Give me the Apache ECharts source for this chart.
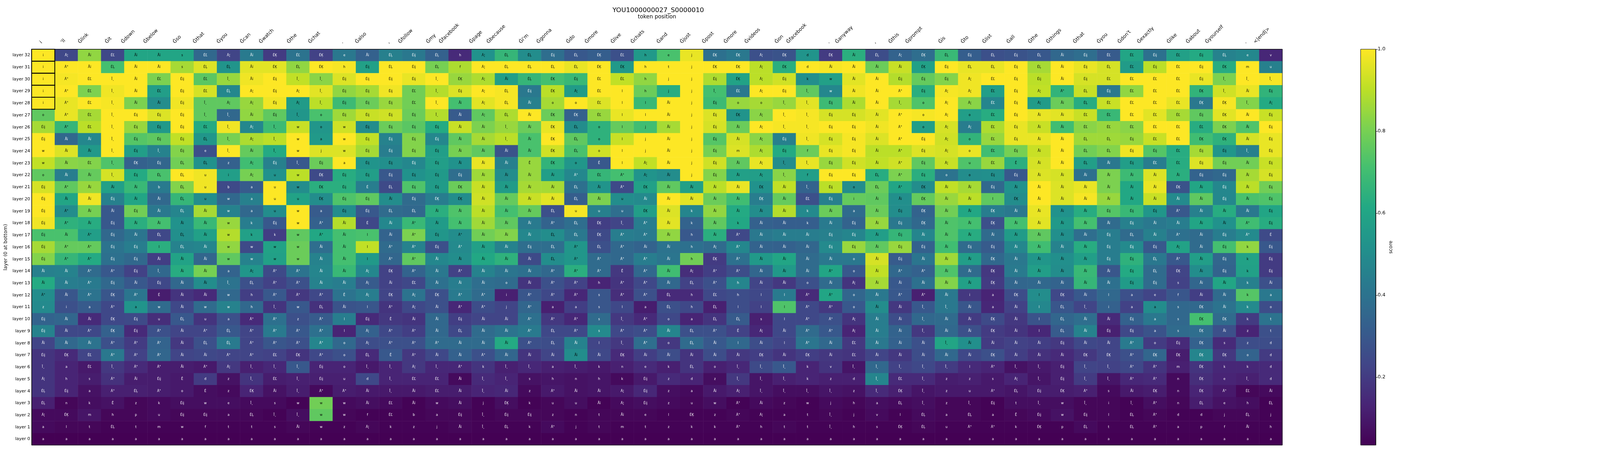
<!DOCTYPE html>
<html><head><meta charset="utf-8">
<style>html,body{margin:0;padding:0;background:#fff;overflow:hidden}#c{height:1155px}</style>
<script src="https://cdn.jsdelivr.net/npm/echarts@6/dist/echarts.min.js"></script>
</head><body><div id="c"></div>
<script>
const TITLE = 'YOU1000000027_S0000010';
const COLUMNS = ["i","'ll","Ġlink","Ġit","Ġdown","Ġbelow","Ġso","Ġthat","Ġyou","Ġcan","Ġwatch","Ġthe","Ġchat",".","Ġalso",",","Ġfollow","Ġmy","Ġfacebook","Ġpage","Ġbecause","Ġi'm","Ġgonna","Ġdo","Ġmore","Ġlive","Ġchats","Ġand","Ġjust","Ġpost","Ġmore","Ġvideos","Ġon","Ġfacebook",".","Ġanyway",",","Ġthis","Ġprompt","Ġis","Ġto","Ġlist","Ġall","Ġthe","Ġthings","Ġthat","Ġyou","Ġdon't","Ġexactly","Ġlike","Ġabout","Ġyourself",".","<|end|>"];
const LAYERS = [0,1,2,3,4,5,6,7,8,9,10,11,12,13,14,15,16,17,18,19,20,21,22,23,24,25,26,27,28,29,30,31,32].map(n => 'layer ' + n);
const COLORBAR_TICKS = [0.2,0.4,0.6,0.8,1.0];
const TOP_TOKEN_LAYERS = [32,31,30,29,28];
const TOKEN_CODES = {'1':'Ã¦','2':'Ã°','3':'Åĭ','4':'Éij','5':'ÉĽ','6':'ÉĻ','7':'ÉĶ','8':'Î¸','9':'Ê','0':'É'};
// best token per cell, top row = layer 32; digits are short codes for the TOKEN_CODES strings
const TOKENS = [
"i13533s5 13757e364 6h1664675 hej7717d7 361764646 34554546ev",
"i23633s6 63767h464 6f1666677 htj7717d3 333746646 34654547mu",
"i2583545 834884444 871367455 hjj4714kw 334441544 3455554888",
"i2583545 614184445 84164715l hjj85148w 332411541 2645557834",
"i2583348 114184445 83163oo5l l3j4oo884 338o11541 3655557781",
"o2584448 8348o4444 83163775l l3j471884 432o1o543 3555554734",
"42584445 818wow444 4338376ol j3j431884 432o11543 3555555734",
"43384446 818waw444 4338376ol j3j431484 43241o543 3664557734",
"w338484e 838wjw444 4333376ol j3j4m14f4 43241o543 3664454484",
"w3587466 z1484a444433397 o 9l13j4318844324 1u5933634554434",
"o338466u i1uw74444443333 2 5213j4318f44624 oo4433333334434",
"42333b6u bauw74064473333 6 32733337384o627 334333333373434",
"4334336u wauu74434773333 6 3u333337354i337 33l733333333434",
"42334363 wauwa4466333336 u uu73k3333k3a347 337333344423334",
"42343333 wk4w23032333332 6 7823k3k33k34347 337333334333324",
"43243663 wkkw23l32423336 6 7223h3233344343 333333346323420",
"42244l63 wwww33l22423346 2 6233h1233344344 3443333444134k4",
"42244333 wwww33l22333336 2 2223h723333o343 3373333446234k4",
"33224833 a12233172323332 2 29231223332o322 3373333346734k4",
"33243433 862233135333o32 2 h22362h33o31333 3373333344s33k3",
"23272033 wh2229171722i22 2 s226h5hll22o322 3ia7l73laef33ka",
"zia2aw3w wh8w63l21322j2a a sla6h6lll22o338 83a3l68iaas73ko",
"43374u6u a22z2l493343322 2 s82oa66sl221338 3373l6334as77kt",
"43274232 62222l122363326 2 s22362913221338 3373l6344as73zt",
"33322236 62222o122233326 3 l82o63l3l235333 833334332o47szd",
"47522233 22572o692332333 3 373333373735333 3373337727777od",
"8a582232 18884o88182k88a 8 knek6o888kv8888 8l28848822m7kkd",
"1hs2349d z8584ud855388sh n hk4zdz888kzd858 zzs1848822n7e8d",
"64a262o0 z738223835383z2 3 314za318888z878 zu26472s37n7253",
"6nk9zk4w e8swww353w3j7ku u 314zuw23zwjha68 z84t8w8i82n6eh6",
"17mhpu44 a688wwf5ba4844z n t3el7z21at8jvl6 a6a94w4l62ddj6j",
"alt6tmwf tts3wz1kzj386k2 j tmtzkk2htt8hs76 u22k7p6t62apf3h",
"aaaaaaaa aaaaaaaaaaaaaaa a aaaaaaaaaaaaaaa aaaaaaaaaaaaaaa"
];
// score x 100 per cell, top row = layer 32
const SCORES = [
[100,24,84,24,60,60,60,36,23,43,20,40,22,42,33,45,42,33,15,52,67,50,38,30,32,27,55,72,97,39,42,27,28,53,20,64,26,34,38,68,32,27,28,30,36,38,31,60,39,58,62,46,48,14],
[100,100,100,71,100,100,87,95,53,96,96,84,100,99,58,100,100,80,88,100,100,100,100,97,100,55,100,100,100,100,100,90,64,100,99,100,78,92,58,100,97,97,100,87,100,97,94,56,90,100,100,63,100,45],
[100,99,100,100,100,81,100,75,85,98,100,91,83,95,100,100,97,100,85,88,57,67,71,68,100,91,84,100,100,88,59,90,93,51,58,96,100,89,77,82,98,100,100,90,100,94,94,100,100,100,97,81,100,99],
[100,100,81,98,100,57,100,94,48,100,100,100,96,84,87,98,79,89,95,100,99,42,90,56,100,100,78,63,100,71,42,100,100,76,48,98,100,100,64,99,98,57,100,91,66,92,42,84,100,100,66,93,97,66],
[100,97,100,99,81,50,98,76,76,85,98,56,90,69,78,85,79,100,71,96,99,45,87,100,95,100,68,100,100,69,85,87,85,96,69,88,100,87,73,100,83,47,100,56,78,63,92,100,100,97,42,99,82,62],
[76,97,87,100,100,95,100,76,36,84,76,54,72,86,92,93,78,89,31,76,88,100,78,33,85,97,100,100,100,95,53,83,100,99,94,94,96,100,99,100,57,63,100,97,96,92,68,100,96,87,76,96,100,92],
[87,67,90,100,85,55,100,62,98,48,69,92,54,93,50,78,75,62,92,81,85,78,97,50,65,77,70,87,100,94,78,100,99,99,100,100,98,100,57,94,44,88,97,92,70,83,85,83,100,100,63,81,73,100],
[100,36,48,100,74,76,91,54,80,88,90,100,55,100,91,46,82,48,76,87,90,72,100,76,65,92,100,100,100,74,94,83,45,98,94,99,95,100,100,93,66,85,97,97,100,86,86,85,92,100,70,65,94,97],
[100,95,55,100,57,46,82,27,100,77,62,100,95,95,87,44,82,57,80,76,28,72,93,72,93,100,100,100,100,80,95,88,62,78,97,99,90,90,95,94,97,70,80,92,100,79,82,98,74,63,87,54,45,97],
[91,83,82,73,33,35,79,52,33,70,45,30,78,100,53,51,48,57,52,97,45,85,66,54,30,100,91,100,100,93,76,97,50,97,85,93,91,93,76,92,73,85,64,94,100,57,42,57,44,63,95,79,79,92],
[76,44,77,94,62,72,100,98,57,80,52,90,25,63,57,30,52,55,38,86,50,85,57,48,67,71,53,50,100,82,58,57,83,57,100,100,63,81,64,40,50,51,30,95,94,39,81,69,95,64,34,36,87,94],
[94,76,85,58,68,43,82,98,25,31,100,50,64,64,44,25,73,56,78,92,56,87,87,39,53,25,58,76,58,90,97,52,91,34,90,50,78,60,50,91,87,36,52,100,95,97,81,61,97,28,60,48,90,79],
[100,60,98,45,60,36,67,50,36,45,100,59,50,73,76,50,37,44,50,93,77,92,96,32,81,50,49,100,96,78,70,44,77,27,45,77,76,51,77,85,90,76,50,100,95,99,85,61,92,49,76,48,72,73],
[100,50,80,30,79,42,47,87,46,36,50,100,31,50,30,37,36,64,73,90,71,77,27,99,45,38,57,95,47,84,62,50,89,49,78,37,78,50,34,79,61,44,42,97,52,63,74,68,54,30,45,63,42,60],
[98,65,63,30,64,71,52,68,85,44,30,100,33,89,24,48,68,56,71,86,76,43,34,38,21,23,44,96,34,76,61,33,32,32,43,34,85,42,36,73,71,27,71,96,55,71,37,45,42,44,60,52,70,63],
[72,72,57,36,41,24,51,58,89,58,21,76,61,71,72,34,81,54,50,79,82,48,50,42,25,44,43,84,30,64,24,42,44,44,45,47,57,67,47,73,63,37,56,76,51,38,44,37,45,39,37,44,49,25],
[87,77,77,40,44,64,46,47,84,25,59,78,38,71,91,37,46,27,49,58,46,38,38,54,27,36,34,40,39,37,48,34,33,35,49,85,76,85,33,70,37,31,48,70,46,63,44,49,30,59,37,71,84,30],
[82,67,62,39,36,21,59,35,76,46,58,78,46,71,55,35,76,48,50,61,65,25,50,54,37,36,44,41,79,20,39,55,60,37,42,42,94,31,41,86,57,36,42,54,51,57,44,65,42,30,57,35,59,20],
[45,46,37,30,22,36,63,80,34,54,25,40,47,68,48,22,34,42,22,46,41,39,36,64,37,19,36,70,16,21,26,35,55,37,60,30,91,36,33,73,37,19,43,57,50,68,29,62,37,23,50,34,58,20],
[62,44,43,36,30,24,36,50,40,27,22,27,46,44,31,22,24,39,44,38,37,18,27,22,13,18,24,36,22,27,47,23,19,27,37,18,87,30,39,82,58,20,35,36,34,67,39,56,37,22,35,60,45,27],
[50,29,40,29,41,11,18,15,36,21,30,19,24,40,44,23,40,27,43,37,12,29,24,14,29,16,27,15,15,24,26,24,43,15,60,35,42,30,12,42,19,13,26,50,24,30,36,27,23,29,21,37,74,42],
[49,27,31,24,53,37,24,37,46,36,18,30,17,28,29,18,24,27,14,26,23,35,12,21,29,24,11,27,24,12,26,22,73,24,19,30,50,19,30,42,29,14,22,48,29,23,33,22,50,36,36,40,49,26],
[34,35,15,24,25,16,30,18,27,15,39,27,31,44,15,19,18,36,21,23,23,39,19,14,37,19,15,24,13,18,31,12,24,24,27,18,44,26,36,37,20,25,19,28,35,38,15,33,42,36,71,37,20,40],
[46,24,24,33,15,27,23,23,30,23,43,30,39,13,33,24,21,36,24,37,40,43,24,24,49,24,26,47,27,27,22,14,24,37,30,13,44,34,19,36,27,20,18,14,31,46,12,24,28,37,38,27,13,27],
[23,36,40,27,20,34,19,27,43,23,29,27,47,36,26,27,27,37,37,37,62,27,26,46,23,19,38,19,37,30,36,26,23,41,36,19,42,33,27,60,51,20,22,21,19,24,23,43,20,15,33,15,26,26],
[18,15,23,42,22,35,23,24,23,23,22,18,24,27,15,30,19,24,33,27,35,18,23,50,24,15,21,26,18,26,19,21,18,21,19,18,23,19,26,36,24,27,21,17,15,19,23,27,35,11,47,19,34,20],
[18,13,10,19,15,11,11,10,19,12,14,30,13,13,10,13,19,14,14,18,12,14,12,11,10,12,15,12,18,12,14,25,30,13,18,9,36,22,24,20,15,13,8,10,12,23,22,24,18,12,18,14,14,15],
[18,13,11,17,11,11,10,20,8,18,11,12,12,12,24,13,13,13,6,15,13,8,9,8,9,6,10,15,13,7,19,9,12,13,12,12,47,15,15,11,12,10,13,9,12,20,9,14,15,6,16,13,12,15],
[18,13,8,12,12,11,10,7,6,13,8,11,6,11,10,10,10,11,11,13,14,6,10,8,9,10,14,7,6,10,12,9,7,7,9,8,15,12,9,10,10,10,9,11,11,12,6,10,11,6,13,10,5,6],
[12,5,7,8,5,6,7,7,7,6,6,4,79,6,7,6,4,6,7,4,7,4,5,7,4,6,7,6,5,7,4,6,5,4,6,5,7,6,7,5,5,4,7,7,7,5,5,4,7,5,11,8,7,4],
[6,6,9,5,5,6,5,5,5,5,4,7,76,5,4,4,4,5,5,4,5,5,5,4,5,5,5,4,4,4,5,4,4,4,5,4,6,4,6,5,5,4,5,6,8,5,5,4,5,4,4,5,5,4],
[6,5,5,4,4,4,4,4,4,4,4,5,4,4,5,4,4,4,5,4,4,4,6,4,5,4,4,4,4,4,4,4,5,4,4,4,4,4,5,4,4,4,4,4,4,6,4,4,4,4,4,4,4,4],
[3.4,3.4,3.4,3.4,3.4,3.4,3.4,3.4,3.4,3.4,3.4,3.4,3.4,3.4,3.4,3.4,3.4,3.4,3.4,3.4,3.4,3.4,3.4,3.4,3.4,3.4,3.4,3.4,3.4,3.4,3.4,3.4,3.4,3.4,3.4,3.4,3.4,3.4,3.4,3.4,3.4,3.4,3.4,3.4,3.4,3.4,3.4,3.4,3.4,3.4,3.4,3.4,3.4,3.4]
];

const VIRIDIS = ['#440154','#482475','#414487','#355f8d','#2a788e','#21918c','#22a884','#44bf70','#7ad151','#bddf26','#fde725'];
const FONT = '"DejaVu Sans"';
// The browser window may be narrower than the reference: the horizontal layout keeps the reference's proportions.
const W = Math.min(window.innerWidth || 5400, 5400);
const sx = W / 5400;
const el = document.getElementById('c');
el.style.width = W + 'px';
const chart = echarts.init(el, null, {renderer:'canvas', width:W, height:1155});

const tokenRows = TOKENS.map(r => r.replace(/ /g,''));
const scoreData = [];
const cellTokens = {};
SCORES.forEach((row, i) => {
  const y = 32 - i;
  row.forEach((p, x) => {
    const ch = tokenRows[i][x];
    const v = p / 100;
    scoreData.push({value:[x, y, v], label:{color: v >= 0.5 ? '#000' : '#fff'}});
    cellTokens[x + '_' + y] = TOKEN_CODES[ch] || ch;
  });
});

const ctx = document.createElement('canvas').getContext('2d');
const XFONT = '12.5px ' + FONT;
ctx.font = XFONT;
const yTickFont = sx < 1 ? 11 : 13.9;
const yNameFont = sx < 1 ? 12.5 : 13.9;
const plotLeft = 101 * sx;

chart.setOption({
  animation:false,
  backgroundColor:'#fff',
  title:{text:TITLE, left:2215 * sx, top:13, textAlign:'center', textStyle:{fontFamily:FONT, fontSize:16.7, fontWeight:'normal', color:'#000'}},
  tooltip:{show:false},
  grid:[
    {left:plotLeft, top:126, width:4227 * sx, height:1014, containLabel:false},
    {left:4592 * sx, top:126, width:51 * sx, height:1014, z:5, show:true, borderColor:'#000', borderWidth:1, backgroundColor:'transparent'}
  ],
  xAxis:[
    {type:'category', gridIndex:0, position:'top', data:COLUMNS, z:3,
     axisLine:{lineStyle:{color:'#000', width:1}},
     axisTick:{alignWithLabel:true, length:5, lineStyle:{color:'#000'}},
     axisLabel:{show:false},
     name:'token position', nameLocation:'middle', nameGap:76,
     nameTextStyle:{fontFamily:FONT, fontSize:13.9, color:'#000'}, splitLine:{show:false}},
    {type:'value', gridIndex:1, show:false, min:0, max:1}
  ],
  yAxis:[
    {type:'category', gridIndex:0, data:LAYERS, z:3,
     axisLine:{lineStyle:{color:'#000', width:1}},
     axisTick:{alignWithLabel:true, length:5, lineStyle:{color:'#000'}},
     axisLabel:{fontFamily:FONT, fontSize:yTickFont, color:'#000', margin:4, interval:0},
     name:'layer (0 at bottom)', nameLocation:'middle', nameGap:plotLeft - 20, nameRotate:90,
     nameTextStyle:{fontFamily:FONT, fontSize:yNameFont, color:'#000'}, splitLine:{show:false}},
    {type:'value', gridIndex:1, position:'right', min:0.034, max:1, z:6,
     axisLine:{show:true, onZero:false, lineStyle:{color:'#000', width:1}},
     axisTick:{show:true, length:5, customValues:COLORBAR_TICKS, lineStyle:{color:'#000'}},
     axisLabel:{show:true, customValues:COLORBAR_TICKS, formatter:v => v.toFixed(1), fontFamily:FONT, fontSize:12.5, color:'#000', margin:5},
     splitLine:{show:false},
     name:'score', nameLocation:'middle', nameGap:32, nameRotate:90,
     nameTextStyle:{fontFamily:FONT, fontSize:12.5, color:'#000'}}
  ],
  visualMap:{type:'continuous', seriesIndex:0, dimension:2, min:0.034, max:1, calculable:false, show:true, hoverLink:false,
    left:4592 * sx, top:126, itemWidth:51 * sx, itemHeight:1014, padding:0, z:1, inRange:{color:VIRIDIS}},
  series:[
    {type:'heatmap', xAxisIndex:0, yAxisIndex:0, data:scoreData, progressive:0, silent:true,
     itemStyle:{borderWidth:0},
     label:{show:true, fontFamily:FONT, fontSize:8.33, formatter:p => cellTokens[p.value[0] + '_' + p.value[1]]},
     emphasis:{disabled:true}},
    // rotated column labels: right edge of the rotated box sits on the tick
    {type:'custom', xAxisIndex:0, yAxisIndex:0, coordinateSystem:'cartesian2d', clip:false, silent:true, z:4,
     data:COLUMNS.map((_, i) => [i, 32]),
     encode:{x:0, y:1},
     renderItem:(params, api) => {
       const p = api.coord([api.value(0), api.value(1)]);
       const h = api.size([0, 1])[1];
       const txt = COLUMNS[api.value(0)];
       const w = ctx.measureText(txt).width;
       return {type:'text', x:p[0] - w * Math.SQRT1_2, y:p[1] - h / 2 - 12, rotation:Math.PI / 4,
         style:{text:txt, font:XFONT, fill:'#000', textAlign:'left', textVerticalAlign:'bottom'}};
     }},
    // black outlines around the target token's cells
    {type:'custom', xAxisIndex:0, yAxisIndex:0, coordinateSystem:'cartesian2d', clip:false, silent:true, z:5,
     data:TOP_TOKEN_LAYERS.map(l => [0, l]),
     encode:{x:0, y:1},
     renderItem:(params, api) => {
       const p = api.coord([api.value(0), api.value(1)]);
       const s = api.size([1, 1]);
       return {type:'rect', shape:{x:p[0] - s[0] / 2, y:p[1] - s[1] / 2, width:s[0], height:s[1]},
         style:{fill:null, stroke:'#000', lineWidth:2}};
     }},
    // plot frame
    {type:'custom', xAxisIndex:0, yAxisIndex:0, coordinateSystem:'cartesian2d', clip:false, silent:true, z:5,
     data:[[0, 0]], encode:{x:0, y:1},
     renderItem:(params) => {
       const c = params.coordSys;
       return {type:'rect', shape:{x:c.x, y:c.y, width:c.width, height:c.height},
         style:{fill:null, stroke:'#000', lineWidth:1}};
     }}
  ]
});
</script></body></html>
